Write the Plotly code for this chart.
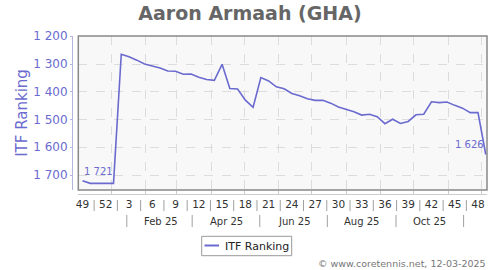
import datetime as dt
import plotly.graph_objects as go

# ---------------- data ----------------
title_text = "Aaron Armaah (GHA)"
series_name = "ITF Ranking"
ranking = [1721, 1730, 1730, 1730, 1730, 1265, 1274, 1286, 1300, 1307,
           1314, 1325, 1326, 1337, 1336, 1348, 1356, 1359, 1301, 1388,
           1390, 1430, 1456, 1349, 1361, 1382, 1389, 1406, 1414, 1425,
           1431, 1431, 1441, 1455, 1463, 1472, 1484, 1481, 1490, 1515,
           1499, 1514, 1507, 1483, 1481, 1436, 1439, 1437, 1449, 1459,
           1475, 1475, 1626]
week_numbers = [49, 50, 51, 52, 1, 2, 3, 4, 5, 6, 7, 8, 9, 10, 11, 12, 13,
                14, 15, 16, 17, 18, 19, 20, 21, 22, 23, 24, 25, 26, 27, 28,
                29, 30, 31, 32, 33, 34, 35, 36, 37, 38, 39, 40, 41, 42, 43,
                44, 45, 46, 47, 48, 49]
tick_weeks_every = 3
month_labels = ["Feb 25", "Apr 25", "Jun 25", "Aug 25", "Oct 25"]
y_ticks = [1200, 1300, 1400, 1500, 1600, 1700]
credit = "© www.coretennis.net, 12-03-2025"

# ---------------- helpers ----------------
base = dt.date(2024, 12, 6)          # date of first weekly point


def pos(d):
    return (d - base).days / 7.0


x_idx = list(range(len(ranking)))
tick_idx = x_idx[:-1:tick_weeks_every]
tick_txt = [str(week_numbers[i]) for i in tick_idx]
sep_idx = [i + tick_weeks_every / 2 for i in tick_idx[:-1]]
month_grid = [pos(dt.date(2025, m, 1)) for m in range(1, 13)]
month_lab_pos = [pos(dt.date(2025, m, 15)) for m in (2, 4, 6, 8, 10)]
month_sep_pos = [pos(dt.date(2025, m, 15)) for m in (1, 3, 5, 7, 9, 11)]

PURPLE = "#6a6acf"
FONT = "DejaVu Sans"

W, H = 500, 270
ML, MR, MT, MB = 72, 13, 36, 76
PW = W - ML - MR
PH = H - MT - MB


def px(x):
    return (x - ML) / PW


def py(y):
    return (H - MB - y) / PH


fig = go.Figure()
fig.add_trace(go.Scatter(
    x=x_idx, y=ranking, mode="lines", name=series_name,
    line=dict(color=PURPLE, width=1.6), showlegend=False,
    hoverinfo="y"))

annotations = []
# data labels first / last
annotations.append(dict(x=x_idx[0], y=ranking[0], xref="x", yref="y",
                        text=f"{ranking[0]:,}".replace(",", " "),
                        showarrow=False, xanchor="left", yanchor="bottom",
                        yshift=2, font=dict(family=FONT, size=10, color=PURPLE)))
annotations.append(dict(x=x_idx[-1], y=ranking[-1], xref="x", yref="y",
                        text=f"{ranking[-1]:,}".replace(",", " "),
                        showarrow=False, xanchor="right", yanchor="bottom",
                        xshift=0, yshift=2,
                        font=dict(family=FONT, size=10, color=PURPLE)))
# month labels
for lab, p in zip(month_labels, month_lab_pos):
    annotations.append(dict(x=p, y=py(221), xref="x", yref="paper", text=lab,
                            showarrow=False, yanchor="middle",
                            font=dict(family=FONT, size=10, color="#333333")))
# legend text
annotations.append(dict(x=px(223), y=py(246), xref="paper", yref="paper",
                        text=series_name, showarrow=False, xanchor="left",
                        yanchor="middle",
                        font=dict(family=FONT, size=11, color="#222222")))
# credit
annotations.append(dict(x=px(488), y=py(263), xref="paper", yref="paper",
                        text=credit, showarrow=False, xanchor="right",
                        yanchor="middle",
                        font=dict(family=FONT, size=9.5, color="#777777")))

shapes = [
    dict(type="rect", xref="x domain", yref="y domain", x0=0, x1=1, y0=0, y1=1,
         line=dict(color="#888888", width=1.5), layer="above"),
    dict(type="rect", xref="paper", yref="paper", x0=px(201.7), x1=px(291.7),
         y0=py(255.7), y1=py(236.3), line=dict(color="#999999", width=1)),
    dict(type="line", xref="paper", yref="paper", x0=px(204.5), x1=px(219),
         y0=py(245.5), y1=py(245.5), line=dict(color=PURPLE, width=2)),
]
for s in sep_idx:
    shapes.append(dict(type="line", xref="x", yref="paper", x0=s, x1=s,
                       y0=py(211), y1=py(200),
                       line=dict(color="#a0a0a0", width=1)))
for p in month_sep_pos:
    shapes.append(dict(type="line", xref="x", yref="paper", x0=p, x1=p,
                       y0=py(227), y1=py(215),
                       line=dict(color="#a0a0a0", width=1)))

fig.update_layout(
    width=W, height=H,
    margin=dict(l=ML, r=MR, t=MT, b=MB, pad=0),
    paper_bgcolor="white", plot_bgcolor="#f8f8f8",
    separators=". ",
    title=dict(text=f"<b>{title_text}</b>", x=0.5, xanchor="center",
               y=1 - 13 / H, yanchor="middle",
               font=dict(family=FONT, size=19, color="#666666")),
    xaxis=dict(domain=[px(78.3), 1], range=[-0.54, 52.16],
               anchor="free", position=0,
               tickmode="array", tickvals=tick_idx, ticktext=tick_txt,
               ticks="", showgrid=False, zeroline=False,
               showline=True, linecolor="#cccccc", linewidth=1,
               tickfont=dict(family=FONT, size=10.5, color="#333333"),
               minor=dict(tickmode="array", tickvals=month_grid,
                          showgrid=True, gridcolor="#dcdcdc", griddash="dash",
                          gridwidth=1, ticks="inside", ticklen=3,
                          tickcolor="#cccccc")),
    yaxis=dict(domain=[py(190), 1], range=[1754, 1199],
               anchor="free", position=0,
               tickmode="array", tickvals=y_ticks, tickformat=",d",
               ticks="outside", ticklen=2, tickcolor="#b4b4e0",
               showline=True, linecolor="#b4b4e0", linewidth=1,
               showgrid=True, gridcolor="#dcdcdc", griddash="dash",
               zeroline=False,
               tickfont=dict(family=FONT, size=12, color=PURPLE),
               title=dict(text=series_name, standoff=0,
                          font=dict(family=FONT, size=15, color=PURPLE))),
    annotations=annotations,
    shapes=shapes,
    showlegend=False,
)

fig.write_html("out.html")
